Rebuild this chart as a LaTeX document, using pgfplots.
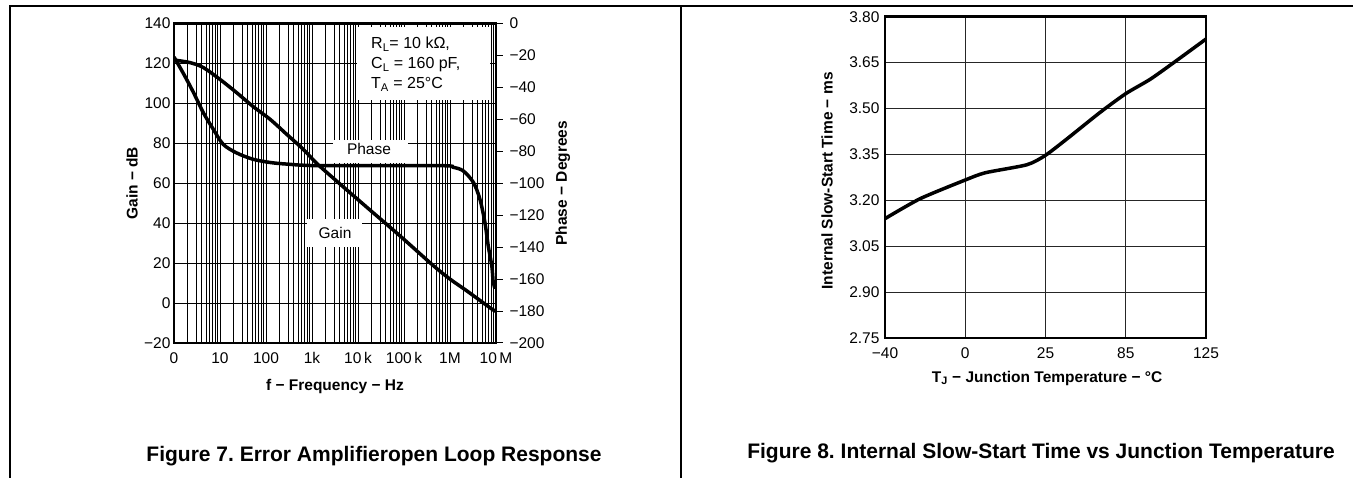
\documentclass[border=0pt]{standalone}
\usepackage{fontspec}
\setmainfont{Liberation Sans}
\usepackage{pgfplots}
\pgfplotsset{compat=1.18}
\frenchspacing

\newcommand\tickfont{\fontsize{15.5}{18}\selectfont}
\newcommand\labfont{\fontsize{15.5}{18}\selectfont\bfseries}
\newcommand\capfont{\fontsize{21}{24}\selectfont\bfseries}

\pgfplotsset{
  tiax/.style={scale only axis, anchor=south west,
    axis line style={-, line width=2.6pt},
    ticklabel style={font=\tickfont},
    label style={font=\labfont}},
  curve/.style={black, line width=3.5pt, smooth, tension=0.5},
}

\begin{document}
\begin{tikzpicture}[x=1pt,y=1pt]
\useasboundingbox (0,0) rectangle (1353,478);

% page rules
\draw[line width=1.6pt] (10,0) -- (10,472) -- (1353,472);
\draw[line width=1.6pt] (681,0) -- (681,472);

% ---- Figure 7: gain
\begin{axis}[tiax, at={(174pt,135pt)}, width=322pt, height=319.5pt,
  xmode=log, xmin=1, xmax=1e7, ymin=-20, ymax=140,
  xtick={1,10,100,1000,1e4,1e5,1e6,1e7},
  xticklabels={0,10,100,1k,10\,k,100\,k,1M,10\,M},
  minor xtick={2,3,4,5,6,7,8,9,20,30,40,50,60,70,80,90,
    200,300,400,500,600,700,800,900,2e3,3e3,4e3,5e3,6e3,7e3,8e3,9e3,
    2e4,3e4,4e4,5e4,6e4,7e4,8e4,9e4,2e5,3e5,4e5,5e5,6e5,7e5,8e5,9e5,
    2e6,3e6,4e6,5e6,6e6,7e6,8e6,9e6},
  ytick={-20,0,...,140},
  yticklabels={−20,0,20,40,60,80,100,120,140},
  xmajorgrids, xminorgrids, ymajorgrids,
  major grid style={black, line width=0.8pt},
  minor grid style={black, line width=0.8pt},
  major tick length=0pt, minor tick length=0pt,
  xticklabel style={yshift=-6pt},
  xlabel={f − Frequency − Hz},
  ylabel={Gain − dB},
  xlabel style={at={(axis description cs:0.5,-0.1375)}, anchor=center},
  ylabel style={at={(axis description cs:-0.130,0.5)}, anchor=center},
]
\addplot[curve] coordinates {
  (1,121.7) (2.24,120.4) (4.37,117.9) (10,112) (22.9,105.4) (52.5,98.4)
  (123,92) (282,84.5) (646,77) (1259,70) (3467,61) (15488,48)
  (81283,33.7) (436516,18.7) (1e6,12) (2.29e6,6.2) (8.13e6,-3) (1e7,-4)};
\end{axis}

% ---- Figure 7: phase
\begin{axis}[tiax, at={(174pt,135pt)}, width=322pt, height=319.5pt,
  xmode=log, xmin=1, xmax=1e7, ymin=-200, ymax=0,
  hide x axis, axis y line*=right,
  ytick={-200,-180,...,0},
  yticklabels={−200,−180,−160,−140,−120,−100,−80,−60,−40,−20,0},
  tick align=outside, major tick length=7pt,
  ytick style={black, line width=1pt},
  yticklabel style={xshift=3pt},
  ylabel={Phase − Degrees},
  ylabel style={at={(axis description cs:1.208,0.5)}, anchor=center},
]
\addplot[curve] coordinates {
  (1,-21) (1.58,-31) (2.63,-43) (4.37,-56) (7.08,-66) (11.7,-75.6)
  (22.9,-81) (52.5,-85) (123,-87) (282,-88) (1479,-89) (6.03e5,-89)
  (1.17e6,-90) (1.95e6,-92.3) (3.24e6,-99.6) (4.47e6,-110) (5.75e6,-124.6)
  (6.76e6,-139) (8.13e6,-152) (8.71e6,-162) (9.6e6,-166)};
\end{axis}

% annotation boxes over the grid
\fill[white] (357pt,378pt) rectangle (490pt,451pt);
\fill[white] (333pt,315pt) rectangle (408pt,338pt);
\fill[white] (307pt,231pt) rectangle (362pt,259pt);
\begin{scope}[every node/.style={anchor=base west, inner sep=0pt, font=\fontsize{16}{19}\selectfont}]
\node at (371pt,429pt) {R\textsubscript{L}= 10 kΩ,};
\node at (371pt,409pt) {C\textsubscript{L} = 160 pF,};
\node at (371pt,389pt) {T\textsubscript{A} = 25°C};
\end{scope}
\node[font=\tickfont] at (369pt,329pt) {Phase};
\node[font=\tickfont] at (335pt,245pt) {Gain};

% ---- Figure 8
\begin{axis}[tiax, at={(885pt,140pt)}, width=321pt, height=321.3pt,
  xmin=0, xmax=4, ymin=2.75, ymax=3.80,
  xtick={0,1,2,3,4}, xticklabels={−40,0,25,85,125},
  ytick={2.75,2.90,3.05,3.20,3.35,3.50,3.65,3.80},
  yticklabels={2.75,2.90,3.05,3.20,3.35,3.50,3.65,3.80},
  grid=major, major grid style={black!85, line width=1pt},
  major tick length=0pt,
  xticklabel style={yshift=-6.5pt},
  yticklabel style={xshift=-2pt},
  xlabel={T\textsubscript{J} − Junction Temperature − °C},
  ylabel={Internal Slow-Start Time − ms},
  xlabel style={at={(axis description cs:0.505,-0.1246)}, anchor=center},
  ylabel style={at={(axis description cs:-0.1807,0.489)}, anchor=center},
]
\addplot[curve, tension=0.4] coordinates {
  (0,3.140) (0.436,3.205) (0.997,3.266) (1.25,3.290)
  (1.766,3.316) (1.994,3.346) (2.264,3.400) (2.679,3.487) (3.003,3.549)
  (3.302,3.595) (3.593,3.649) (4,3.727)};
\end{axis}

\node[font=\capfont] at (374pt,22pt) {Figure 7. Error Amplifieropen Loop Response};
\node[font=\capfont] at (1041pt,25pt) {Figure 8. Internal Slow-Start Time vs Junction Temperature};
\end{tikzpicture}
\end{document}
